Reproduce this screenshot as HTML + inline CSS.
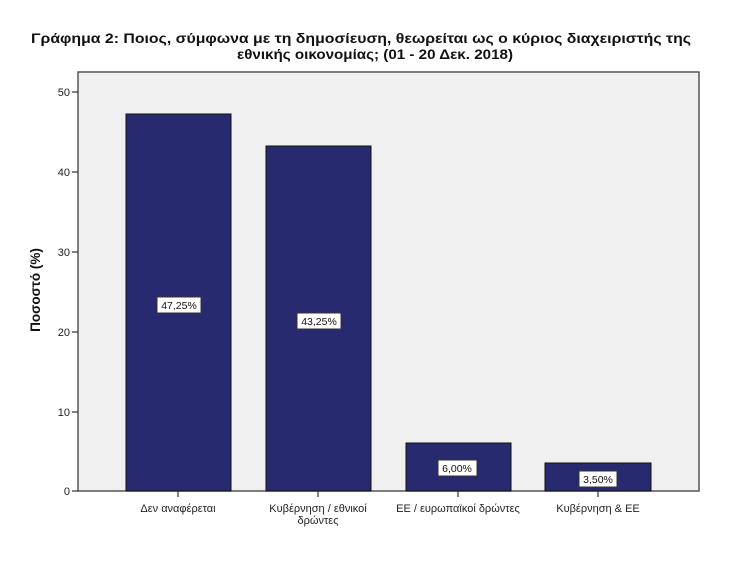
<!DOCTYPE html>
<html><head><meta charset="utf-8"><style>
body{margin:0;background:#fff;}
</style></head><body>
<svg width="753" height="571" xmlns="http://www.w3.org/2000/svg" font-family="'Liberation Sans','DejaVu Sans',sans-serif">
<rect width="753" height="571" fill="#fff"/>
<text x="31" y="43" font-size="13.5" font-weight="bold" fill="#111" textLength="660" lengthAdjust="spacingAndGlyphs">Γράφημα 2: Ποιος, σύμφωνα με τη δημοσίευση, θεωρείται ως ο κύριος διαχειριστής της</text>
<text x="237" y="59" font-size="13.5" font-weight="bold" fill="#111" textLength="276" lengthAdjust="spacingAndGlyphs">εθνικής οικονομίας; (01 - 20 Δεκ. 2018)</text>
<rect x="78" y="72" width="621" height="419" fill="#f0f0f0" stroke="#555" stroke-width="1.5"/>
<g fill="#282a70" stroke="#111" stroke-width="1">
<rect x="126" y="114" width="105" height="377"/>
<rect x="266" y="146" width="105" height="345"/>
<rect x="406" y="443" width="105" height="48"/>
<rect x="545" y="463" width="106" height="28"/>
</g>
<g stroke="#333" stroke-width="1.2">
<line x1="72" y1="92" x2="78" y2="92"/><line x1="72" y1="172" x2="78" y2="172"/><line x1="72" y1="252" x2="78" y2="252"/><line x1="72" y1="332" x2="78" y2="332"/><line x1="72" y1="412" x2="78" y2="412"/><line x1="72" y1="491" x2="78" y2="491"/>
<line x1="178" y1="491" x2="178" y2="497"/><line x1="318" y1="491" x2="318" y2="497"/><line x1="458" y1="491" x2="458" y2="497"/><line x1="598" y1="491" x2="598" y2="497"/>
</g>
<g font-size="11" fill="#222" text-anchor="end">
<text x="70" y="96">50</text><text x="70" y="176">40</text><text x="70" y="256">30</text><text x="70" y="336">20</text><text x="70" y="416">10</text><text x="70" y="495">0</text>
</g>
<text transform="translate(40,290) rotate(-90)" text-anchor="middle" font-size="13.5" font-weight="bold" fill="#111">Ποσοστό (%)</text>
<g font-size="11" fill="#222" text-anchor="middle">
<text x="178" y="512">Δεν αναφέρεται</text>
<text x="318" y="512">Κυβέρνηση / εθνικοί</text><text x="318" y="524">δρώντες</text>
<text x="458" y="512">ΕΕ / ευρωπαϊκοί δρώντες</text>
<text x="598" y="512">Κυβέρνηση &amp; ΕΕ</text>
</g>
<g fill="#fff" stroke="#333" stroke-width="1">
<rect x="157" y="297" width="44" height="16"/>
<rect x="297" y="313" width="44" height="16"/>
<rect x="438" y="460" width="39" height="16"/>
<rect x="579" y="471" width="38" height="16"/>
</g>
<g font-size="10.5" fill="#111" text-anchor="middle">
<text x="179" y="309">47,25%</text>
<text x="319" y="325">43,25%</text>
<text x="457" y="472">6,00%</text>
<text x="598" y="483">3,50%</text>
</g>
</svg>
</body></html>
